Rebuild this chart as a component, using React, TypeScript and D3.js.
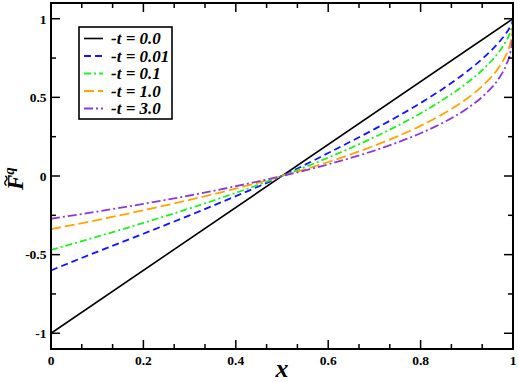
import React from 'react';
import * as d3 from 'd3';

// x grid of the sampled points
const xValues = [0, 0.1, 0.2, 0.3, 0.4, 0.5, 0.6, 0.7, 0.8, 0.85, 0.9, 0.94, 0.97, 0.985, 0.995, 0.999, 1];

const blackX = [0, 1];
const blackY = [-1, 1];
const blueY = [-0.6, -0.482, -0.367, -0.25, -0.128, 0, 0.146, 0.298, 0.464, 0.558, 0.664, 0.762, 0.852, 0.907, 0.956, 0.985, 1];
const greenY = [-0.47, -0.386, -0.298, -0.206, -0.107, 0, 0.117, 0.247, 0.399, 0.488, 0.591, 0.692, 0.791, 0.858, 0.923, 0.968, 1];
const orangeY = [-0.338, -0.28, -0.218, -0.152, -0.08, 0, 0.089, 0.193, 0.319, 0.397, 0.491, 0.59, 0.693, 0.771, 0.856, 0.926, 1];
const purpleY = [-0.272, -0.226, -0.177, -0.124, -0.065, 0, 0.074, 0.162, 0.272, 0.341, 0.428, 0.521, 0.623, 0.704, 0.798, 0.884, 1];

const legendLabels = ['-t = 0.0', '-t = 0.01', '-t = 0.1', '-t = 1.0', '-t = 3.0'];

const xTickValues = [0, 0.2, 0.4, 0.6, 0.8, 1];
const xTickLabels = ['0', '0.2', '0.4', '0.6', '0.8', '1'];
const yTickValues = [-1, -0.5, 0, 0.5, 1];
const yTickLabels = ['-1', '-0.5', '0', '0.5', '1'];
const yMinorValues = [-0.75, -0.25, 0.25, 0.75];

const W = 518;
const H = 382;
const FONT = '"Liberation Serif", "DejaVu Serif", serif';

function fs(size: number, italic = false): React.CSSProperties {
  return {
    fontFamily: FONT,
    fontSize: size + 'px',
    fontWeight: 700,
    fontStyle: italic ? 'italic' : 'normal',
  };
}

export default function App() {
  const x = d3.scaleLinear().domain([0, 1]).range([51, 513]);
  const y = d3.scaleLinear().domain([-1.1, 1.1]).range([349, 3]);
  const [x0, x1] = x.range();
  const [y0, y1] = y.range(); // y0 bottom, y1 top

  const xMinor = d3.range(0, 16).map((i) => i / 15).filter((v) => Math.abs(v * 5 - Math.round(v * 5)) > 1e-6);

  const line = d3
    .line<[number, number]>()
    .x((d) => x(d[0]))
    .y((d) => y(d[1]))
    .curve(d3.curveMonotoneX);

  const series = [
    { xs: blackX, ys: blackY, color: '#000000', dash: 'none', width: 1.6 },
    { xs: xValues, ys: blueY, color: '#1414ff', dash: '7,4', width: 1.8 },
    { xs: xValues, ys: greenY, color: '#22ee22', dash: '7,3,2,3', width: 1.8 },
    { xs: xValues, ys: orangeY, color: '#ffa500', dash: '10,4', width: 1.8 },
    { xs: xValues, ys: purpleY, color: '#8a3ad8', dash: '9,3,2,3', width: 1.8 },
  ];

  const majorLen = 9;
  const minorLen = 5;

  return (
    <svg width={W} height={H} style={{ position: 'absolute', left: 0, top: 0, background: '#fff' }}>
      <rect x={0} y={0} width={W} height={H} fill="#fff" />
      <defs>
        <clipPath id="plotclip">
          <rect x={x0} y={y1} width={x1 - x0} height={y0 - y1} />
        </clipPath>
      </defs>

      {/* curves */}
      <g clipPath="url(#plotclip)">
        {series.map((s, i) => (
          <path
            key={i}
            d={line(s.xs.map((v, j) => [v, s.ys[j]] as [number, number])) || ''}
            fill="none"
            stroke={s.color}
            strokeWidth={s.width}
            strokeDasharray={s.dash}
          />
        ))}
      </g>

      {/* ticks */}
      <g stroke="#000" strokeWidth={1.5}>
        {xTickValues.map((v) => (
          <g key={'xt' + v}>
            <line x1={x(v)} x2={x(v)} y1={y0} y2={y0 - majorLen} />
            <line x1={x(v)} x2={x(v)} y1={y1} y2={y1 + majorLen} />
          </g>
        ))}
        {xMinor.map((v) => (
          <g key={'xm' + v}>
            <line x1={x(v)} x2={x(v)} y1={y0} y2={y0 - minorLen} />
            <line x1={x(v)} x2={x(v)} y1={y1} y2={y1 + minorLen} />
          </g>
        ))}
        {yTickValues.map((v) => (
          <g key={'yt' + v}>
            <line x1={x0} x2={x0 + majorLen} y1={y(v)} y2={y(v)} />
            <line x1={x1} x2={x1 - majorLen} y1={y(v)} y2={y(v)} />
          </g>
        ))}
        {yMinorValues.map((v) => (
          <g key={'ym' + v}>
            <line x1={x0} x2={x0 + minorLen} y1={y(v)} y2={y(v)} />
            <line x1={x1} x2={x1 - minorLen} y1={y(v)} y2={y(v)} />
          </g>
        ))}
      </g>

      {/* frame */}
      <rect x={x0} y={y1} width={x1 - x0} height={y0 - y1} fill="none" stroke="#000" strokeWidth={2} />

      {/* tick labels */}
      <g fill="#000">
        {xTickValues.map((v, i) => (
          <text key={'xl' + v} x={x(v)} y={364.5} textAnchor="middle" style={fs(13.5)}>
            {xTickLabels[i]}
          </text>
        ))}
        {yTickValues.map((v, i) => (
          <text key={'yl' + v} x={46.5} y={y(v) + 4.8} textAnchor="end" style={fs(13.5)}>
            {yTickLabels[i]}
          </text>
        ))}
      </g>

      {/* axis titles */}
      <text x={282} y={377} textAnchor="middle" style={fs(26, true)}>
        x
      </text>
      <g transform="translate(23,190) rotate(-90)">
        <text x={0} y={0} style={fs(23, true)}>
          F
          <tspan dx={0} dy={-9} style={{ fontSize: '15px' }}>q</tspan>
        </text>
        <path d="M4.5,-16.5 q2.4,-3.2 4.8,-0.6 t4.8,-0.6" fill="none" stroke="#000" strokeWidth={1.4} />
      </g>

      {/* legend */}
      <rect x={79} y={27} width={93} height={92} fill="#fff" stroke="#000" strokeWidth={1.6} />
      {series.map((s, i) => {
        const ly = 38.5 + i * 17.5;
        return (
          <g key={'lg' + i}>
            <line x1={84} x2={103} y1={ly} y2={ly} stroke={s.color} strokeWidth={s.width} strokeDasharray={s.dash} />
            <text x={111} y={ly + 5.5} style={fs(17, true)}>
              {legendLabels[i]}
            </text>
          </g>
        );
      })}
    </svg>
  );
}
